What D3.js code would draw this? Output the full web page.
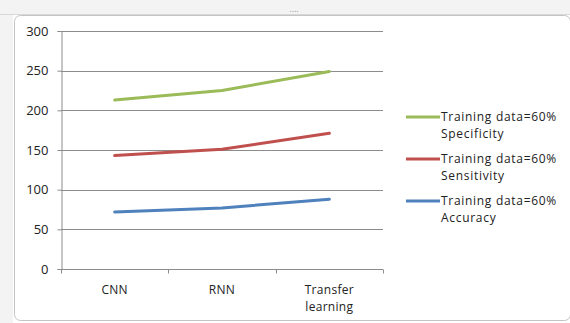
<!DOCTYPE html>
<html>
<head>
<meta charset="utf-8">
<script src="https://cdn.jsdelivr.net/npm/d3@7"></script>
<style>
  body { margin: 0; background: #fff; }
  svg { display: block; font-family: "Open Sans", "Noto Sans", sans-serif; }
</style>
</head>
<body>
<div id="chart"></div>
<script>
// data
const categories = ["CNN", "RNN", "Transfer learning"];
const specificity = [213, 225, 249];
const sensitivity = [143, 151, 171];
const accuracy = [72, 77, 88];
const yTicks = [0, 50, 100, 150, 200, 250, 300];
const seriesNames = [
  ["Training data=60%", "Specificity"],
  ["Training data=60%", "Sensitivity"],
  ["Training data=60%", "Accuracy"]
];
const seriesColors = ["#9bbb59", "#c0504d", "#4f81bd"];

const W = 570, H = 323;
const margin = {top: 31, left: 61, right: 187, bottom: 54};
const width = W - margin.left - margin.right,
      height = H - margin.top - margin.bottom;

const svg = d3.select("#chart").append("svg")
  .attr("width", W)
  .attr("height", H);

// spreadsheet background around the chart object
svg.append("rect").attr("x", 0).attr("y", 0).attr("width", W).attr("height", 14).attr("fill", "#f3f3f3");
svg.append("rect").attr("x", 0).attr("y", 0).attr("width", 13).attr("height", H).attr("fill", "#f3f3f3");
svg.append("line").attr("x1", 0).attr("x2", W).attr("y1", 14.5).attr("y2", 14.5).attr("stroke", "#d8d8d8");
svg.append("rect")
  .attr("x", 14.5).attr("y", 15.5)
  .attr("width", W - 14).attr("height", H - 18)
  .attr("rx", 6)
  .attr("fill", "#fff")
  .attr("stroke", "#c4c4c4");
svg.append("text").attr("x", 294).attr("y", 12).attr("text-anchor", "middle")
  .attr("fill", "#999").attr("font-size", 9).text("....");

const g = svg.append("g")
  .attr("transform", "translate(" + margin.left + "," + margin.top + ")");

const x = d3.scaleBand().domain(categories).range([0, width]);
const y = d3.scaleLinear().domain([0, 300]).range([height, 0]);

// gridlines
g.append("g")
  .selectAll("line")
  .data(yTicks.slice(1))
  .join("line")
  .attr("x1", 0).attr("x2", width)
  .attr("y1", d => Math.round(y(d)) + 0.5).attr("y2", d => Math.round(y(d)) + 0.5)
  .attr("stroke", "#8c8c8c");

// y axis
const yAxis = g.append("g")
  .attr("transform", "translate(0.5,0)")
  .call(d3.axisLeft(y).tickValues(yTicks).tickSize(4).tickPadding(9).tickFormat(d3.format("d")));
yAxis.selectAll("path, line").attr("stroke", "#8c8c8c");
yAxis.selectAll("text").attr("font-size", 13).attr("fill", "#222").attr("font-family", "Open Sans, sans-serif");

// x axis
const xAxis = g.append("g")
  .attr("transform", "translate(0," + (Math.round(height) + 0.5) + ")");
xAxis.append("line").attr("x1", 0).attr("x2", width).attr("stroke", "#8c8c8c");
xAxis.selectAll(".tk")
  .data(d3.range(categories.length + 1))
  .join("line")
  .attr("x1", i => Math.round(i * x.step()) + 0.5)
  .attr("x2", i => Math.round(i * x.step()) + 0.5)
  .attr("y1", 0).attr("y2", 4)
  .attr("stroke", "#8c8c8c");
const xl = xAxis.selectAll(".lbl")
  .data(categories)
  .join("text")
  .attr("x", d => x(d) + x.bandwidth() / 2)
  .attr("text-anchor", "middle")
  .attr("font-size", 12)
  .attr("letter-spacing", 0.3)
  .attr("fill", "#222");
xl.each(function(d) {
  const words = d.split(" ");
  const t = d3.select(this);
  words.forEach((w, i) => {
    t.append("tspan").attr("x", x(d) + x.bandwidth() / 2).attr("y", 24 + i * 17).text(w);
  });
});

// lines
const allSeries = [specificity, sensitivity, accuracy];
const line = d3.line()
  .x((d, i) => x(categories[i]) + x.bandwidth() / 2)
  .y(d => y(d));
g.selectAll(".series")
  .data(allSeries)
  .join("path")
  .attr("d", line)
  .attr("fill", "none")
  .attr("stroke", (d, i) => seriesColors[i])
  .attr("stroke-width", 3)
  .attr("stroke-linecap", "round");

// legend
const legend = svg.append("g").attr("transform", "translate(406,117)");
const items = legend.selectAll("g")
  .data(seriesNames)
  .join("g")
  .attr("transform", (d, i) => "translate(0," + i * 42 + ")");
items.append("line")
  .attr("x1", 0).attr("x2", 34)
  .attr("stroke", (d, i) => seriesColors[i])
  .attr("stroke-width", 3);
items.selectAll("text")
  .data(d => d)
  .join("text")
  .attr("x", 35).attr("y", (d, j) => 4 + j * 17)
  .attr("font-size", 12)
  .attr("letter-spacing", 0.7)
  .attr("fill", "#222")
  .text(d => d);
</script>
</body>
</html>
